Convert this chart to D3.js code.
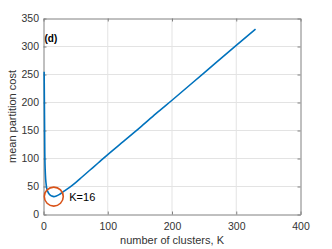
<!DOCTYPE html>
<html>
<head>
<meta charset="utf-8">
<script src="https://cdn.jsdelivr.net/npm/d3@7"></script>
<style>
  body { margin: 0; background: #fff; }
  text { font-family: "Liberation Sans", Arial, sans-serif; }
</style>
</head>
<body>
<div id="chart"></div>
<script>
// cost curve
var kValues = [1, 2, 3, 4, 5, 7, 10, 13, 16, 20, 25, 30, 40, 50, 60, 72, 85, 100, 125, 150, 175, 200, 250, 300, 330];
var costValues = [255, 110, 70, 55, 47, 40, 35, 33, 32, 33, 36, 40, 48, 57, 67, 79, 92, 107, 131, 155, 180, 204, 253, 302, 331];
var xTicks = [0, 100, 200, 300, 400];
var yTicks = [0, 50, 100, 150, 200, 250, 300, 350];
var bestK = 16;
var bestCost = 32;

var width = 332, height = 249;
var margin = {top: 18.5, right: 31.5, bottom: 34.5, left: 43.5};

var svg = d3.select('#chart')
  .append('svg')
  .attr('width', width)
  .attr('height', height);

var x = d3.scaleLinear().domain([0, 400]).range([margin.left, width - margin.right]);
var y = d3.scaleLinear().domain([0, 350]).range([height - margin.bottom, margin.top]);

// grid
svg.append('g').selectAll('line.vg')
  .data(xTicks.slice(1, -1)).enter().append('line')
  .attr('x1', function(d) { return x(d); })
  .attr('x2', function(d) { return x(d); })
  .attr('y1', y(0)).attr('y2', y(350))
  .attr('stroke', '#e3e3e3').attr('stroke-width', 1);
svg.append('g').selectAll('line.hg')
  .data(yTicks.slice(1, -1)).enter().append('line')
  .attr('y1', function(d) { return y(d); })
  .attr('y2', function(d) { return y(d); })
  .attr('x1', x(0)).attr('x2', x(400))
  .attr('stroke', '#e3e3e3').attr('stroke-width', 1);

// axes (ticks inward, mirrored on top/right)
var axisX = d3.axisBottom(x).tickValues(xTicks).tickSizeInner(-3).tickSizeOuter(0).tickPadding(8.5);
var axisY = d3.axisLeft(y).tickValues(yTicks).tickSizeInner(-3).tickSizeOuter(0).tickPadding(4.5);

var gx = svg.append('g')
  .attr('transform', 'translate(0,' + y(0) + ')')
  .call(axisX);
var gy = svg.append('g')
  .attr('transform', 'translate(' + x(0) + ',0)')
  .call(axisY);
var gt = svg.append('g')
  .attr('transform', 'translate(0,' + y(350) + ')')
  .call(d3.axisTop(x).tickValues(xTicks).tickSizeInner(-3).tickSizeOuter(0).tickFormat(''));
var gr = svg.append('g')
  .attr('transform', 'translate(' + x(400) + ',0)')
  .call(d3.axisRight(y).tickValues(yTicks).tickSizeInner(-3).tickSizeOuter(0).tickFormat(''));

[gx, gy, gt, gr].forEach(function(g) {
  g.select('.domain').attr('stroke', '#808080');
  g.selectAll('.tick line').attr('stroke', '#808080');
  g.selectAll('.tick text')
    .attr('fill', '#333')
    .style('font-size', '10.5px')
    .style('font-family', '"Liberation Sans", Arial, sans-serif');
});

// curve
var line = d3.line()
  .x(function(d, i) { return x(kValues[i]); })
  .y(function(d) { return y(d); })
  .curve(d3.curveMonotoneX);

svg.append('path')
  .datum(costValues)
  .attr('d', line)
  .attr('fill', 'none')
  .attr('stroke', '#0072BD')
  .attr('stroke-width', 1.6);

// optimum marker
svg.append('circle')
  .attr('cx', x(bestK))
  .attr('cy', y(bestCost))
  .attr('r', 9.5)
  .attr('fill', 'none')
  .attr('stroke', '#D95319')
  .attr('stroke-width', 1.6);

svg.append('text')
  .attr('x', x(bestK) + 15.5)
  .attr('y', y(bestCost) + 4)
  .attr('fill', '#000')
  .style('font-size', '11px')
  .text('K=' + bestK);

svg.append('text')
  .attr('x', x(0) + 1)
  .attr('y', 42)
  .attr('fill', '#000')
  .style('font-size', '10px')
  .style('font-weight', 'bold')
  .text('(d)');

// axis labels
svg.append('text')
  .attr('x', (x(0) + x(400)) / 2)
  .attr('y', 244)
  .attr('text-anchor', 'middle')
  .attr('fill', '#333')
  .style('font-size', '11px')
  .text('number of clusters, K');

svg.append('text')
  .attr('transform', 'translate(16,' + (y(175)) + ') rotate(-90)')
  .attr('text-anchor', 'middle')
  .attr('fill', '#333')
  .style('font-size', '11px')
  .text('mean partition cost');
</script>
</body>
</html>
